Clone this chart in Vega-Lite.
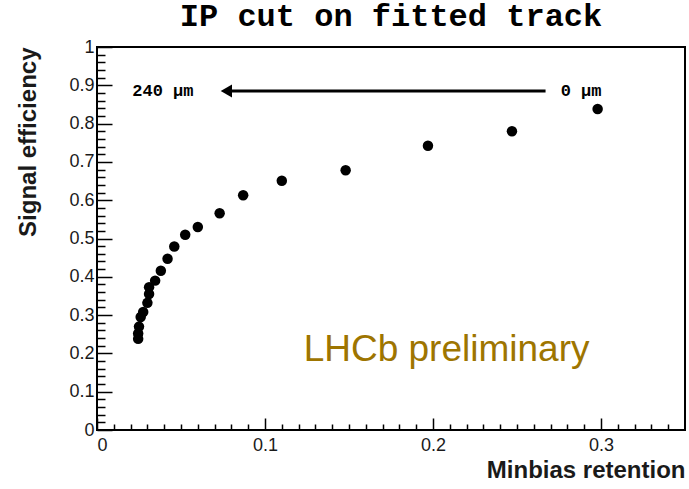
{
  "$schema": "https://vega.github.io/schema/vega-lite/v6.json",
  "width": 588,
  "height": 383,
  "autosize": "none",
  "padding": {"left": 97, "top": 47, "right": 4, "bottom": 59},
  "background": "white",
  "title": {"text": "IP cut on fitted track", "font": "Liberation Mono", "fontWeight": "bold", "fontSize": 32, "offset": 5, "color": "black"},
  "config": {"view": {"stroke": "black", "strokeWidth": 2}},
  "datasets": {
    "points": [
      {"retention": 0.298, "efficiency": 0.838},
      {"retention": 0.247, "efficiency": 0.780},
      {"retention": 0.197, "efficiency": 0.742},
      {"retention": 0.148, "efficiency": 0.678},
      {"retention": 0.110, "efficiency": 0.651},
      {"retention": 0.087, "efficiency": 0.613},
      {"retention": 0.073, "efficiency": 0.566},
      {"retention": 0.060, "efficiency": 0.530},
      {"retention": 0.0525, "efficiency": 0.510},
      {"retention": 0.046, "efficiency": 0.479},
      {"retention": 0.042, "efficiency": 0.447},
      {"retention": 0.038, "efficiency": 0.416},
      {"retention": 0.0346, "efficiency": 0.390},
      {"retention": 0.031, "efficiency": 0.373},
      {"retention": 0.031, "efficiency": 0.355},
      {"retention": 0.030, "efficiency": 0.332},
      {"retention": 0.0275, "efficiency": 0.308},
      {"retention": 0.026, "efficiency": 0.295},
      {"retention": 0.025, "efficiency": 0.270},
      {"retention": 0.0245, "efficiency": 0.252},
      {"retention": 0.0245, "efficiency": 0.238}
    ]
  },
  "encoding": {
    "x": {"type": "quantitative", "scale": {"domain": [0, 0.35], "nice": false},
          "axis": {"values": [0, 0.01, 0.02, 0.03, 0.04, 0.05, 0.06, 0.07, 0.08, 0.09, 0.1, 0.11, 0.12, 0.13, 0.14, 0.15, 0.16, 0.17, 0.18, 0.19, 0.2, 0.21, 0.22, 0.23, 0.24, 0.25, 0.26, 0.27, 0.28, 0.29, 0.3, 0.31, 0.32, 0.33, 0.34],
                   "labelExpr": "abs(datum.value*10 - round(datum.value*10)) < 0.001 ? format(datum.value, '.1~f') : ''",
                   "tickSize": {"condition": {"test": "abs(datum.value*10 - round(datum.value*10)) < 0.001", "value": -12}, "value": -6},
                   "grid": false, "domain": false, "tickColor": "black", "tickWidth": 1.5,
                   "labelFont": "Liberation Sans", "labelFontSize": 18, "labelColor": "#1a1a1a", "labelPadding": 18,
                   "title": "Minbias retention", "titleFont": "Liberation Sans", "titleFontSize": 24, "titleFontWeight": "bold",
                   "titleAnchor": "end", "titleColor": "#1a1a1a", "titlePadding": 4}},
    "y": {"type": "quantitative", "scale": {"domain": [0, 1], "nice": false},
          "axis": {"values": [0, 0.02, 0.04, 0.06, 0.08, 0.1, 0.12, 0.14, 0.16, 0.18, 0.2, 0.22, 0.24, 0.26, 0.28, 0.3, 0.32, 0.34, 0.36, 0.38, 0.4, 0.42, 0.44, 0.46, 0.48, 0.5, 0.52, 0.54, 0.56, 0.58, 0.6, 0.62, 0.64, 0.66, 0.68, 0.7, 0.72, 0.74, 0.76, 0.78, 0.8, 0.82, 0.84, 0.86, 0.88, 0.9, 0.92, 0.94, 0.96, 0.98, 1],
                   "labelExpr": "abs(datum.value*10 - round(datum.value*10)) < 0.001 ? format(datum.value, '.1~f') : ''",
                   "tickSize": {"condition": {"test": "abs(datum.value*10 - round(datum.value*10)) < 0.001", "value": -15}, "value": -8},
                   "grid": false, "domain": false, "tickColor": "black", "tickWidth": 1.5,
                   "labelFont": "Liberation Sans", "labelFontSize": 18, "labelColor": "#1a1a1a", "labelPadding": 18,
                   "title": "Signal efficiency", "titleFont": "Liberation Sans", "titleFontSize": 24, "titleFontWeight": "bold",
                   "titleAnchor": "end", "titleColor": "#1a1a1a", "titlePadding": 28}}
  },
  "layer": [
    {
      "data": {"name": "points"},
      "mark": {"type": "circle", "size": 110, "color": "black", "opacity": 1},
      "encoding": {"x": {"field": "retention"}, "y": {"field": "efficiency"}}
    },
    {
      "data": {"values": [{"x1": 0.267, "x2": 0.08, "y": 0.885}]},
      "mark": {"type": "rule", "color": "black", "strokeWidth": 3},
      "encoding": {"x": {"field": "x1"}, "x2": {"field": "x2"}, "y": {"field": "y"}}
    },
    {
      "data": {"values": [{"x": 0.077, "y": 0.885}]},
      "mark": {"type": "point", "shape": "triangle-left", "filled": true, "color": "black", "size": 170, "opacity": 1},
      "encoding": {"x": {"field": "x"}, "y": {"field": "y"}}
    },
    {
      "data": {"values": [{"x": 0.021, "y": 0.885, "label": "240 μm"}, {"x": 0.276, "y": 0.885, "label": "0 μm"}]},
      "mark": {"type": "text", "align": "left", "baseline": "middle", "font": "Liberation Mono", "fontWeight": "bold", "fontSize": 17, "color": "black"},
      "encoding": {"x": {"field": "x"}, "y": {"field": "y"}, "text": {"field": "label"}}
    },
    {
      "data": {"values": [{"x": 0.123, "y": 0.21, "label": "LHCb preliminary"}]},
      "mark": {"type": "text", "align": "left", "baseline": "middle", "font": "Liberation Sans", "fontSize": 37, "color": "#9e7500"},
      "encoding": {"x": {"field": "x"}, "y": {"field": "y"}, "text": {"field": "label"}}
    }
  ]
}
